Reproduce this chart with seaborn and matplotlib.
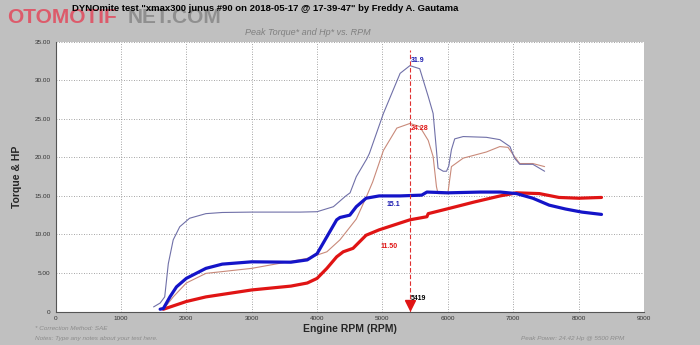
import matplotlib
matplotlib.use("Agg")
import matplotlib.pyplot as plt
import seaborn as sns
import pandas as pd
from matplotlib.ticker import MultipleLocator, FuncFormatter

# ---- data ----
hp_rpm = [1600, 1650, 1750, 1850, 2000, 2300, 2550, 3000, 3600, 3850, 4000, 4150, 4300, 4350, 4500,
          4600, 4750, 4950, 5270, 5600, 5680, 6000, 6500, 6800, 7050, 7300, 7550, 7800, 8050, 8350]
hp_val = [0.3, 0.4, 1.9, 3.2, 4.3, 5.6, 6.15, 6.45, 6.4, 6.7, 7.5, 9.7, 11.9, 12.2, 12.5,
          13.6, 14.7, 15.0, 15.0, 15.1, 15.5, 15.4, 15.5, 15.5, 15.3, 14.7, 13.8, 13.3, 12.9, 12.6]

tq_rpm = [1650, 2000, 2300, 3000, 3600, 3850, 4000, 4150, 4300, 4400, 4550, 4750, 4950, 5420,
          5680, 5700, 6030, 6400, 6800, 7050, 7400, 7700, 8000, 8350]
tq_val = [0.3, 1.3, 1.9, 2.8, 3.3, 3.7, 4.3, 5.6, 7.1, 7.75, 8.2, 9.9, 10.6, 11.9,
          12.3, 12.7, 13.4, 14.2, 15.0, 15.4, 15.3, 14.8, 14.7, 14.8]

thin_blue_rpm = [1500, 1600, 1670, 1725, 1800, 1900, 2050, 2300, 2550, 3000, 3740, 4000, 4250, 4440,
                 4505, 4600, 4760, 4800, 5015, 5270, 5420, 5570, 5700, 5775, 5826, 5850, 5930, 5980,
                 6015, 6055, 6105, 6235, 6590, 6795, 6950, 7020, 7100, 7300, 7400, 7480]
thin_blue_val = [0.6, 1.1, 1.9, 6.2, 9.3, 11.0, 12.1, 12.7, 12.85, 12.9, 12.9, 12.95, 13.6, 15.0,
                 15.4, 17.5, 19.8, 20.5, 25.7, 30.9, 31.9, 31.5, 27.9, 25.7, 20.9, 18.6, 18.2, 18.2,
                 18.9, 21.0, 22.4, 22.7, 22.6, 22.3, 21.4, 19.9, 19.1, 19.1, 18.6, 18.2]

thin_brown_rpm = [1650, 1800, 2000, 2300, 3000, 3850, 4150, 4350, 4600, 4760, 4850, 5015, 5220, 5420,
                  5570, 5700, 5775, 5826, 5850, 6000, 6055, 6235, 6590, 6795, 6920, 7020, 7100, 7300, 7480]
thin_brown_val = [0.3, 1.9, 3.7, 4.95, 5.6, 6.9, 7.75, 9.3, 12.0, 15.0, 16.8, 20.9, 23.8, 24.4,
                  24.0, 22.2, 20.1, 16.2, 15.3, 15.3, 18.8, 19.9, 20.7, 21.4, 21.3, 20.1, 19.2, 19.2, 18.8]

peak_rpm = 5419
peak_labels = [("31.9", 31.9), ("24.28", 24.28), ("15.1", 15.1), ("11.50", 11.50)]

xticks = list(range(0, 9001, 1000))
yticks = [0, 5, 10, 15, 20, 25, 30, 35]

# ---- style ----
sns.set_style("white")
plt.rcParams['font.family'] = ['Liberation Sans', 'DejaVu Sans']

bg = "#c0c0c0"
fig = plt.figure(figsize=(7, 3.45), dpi=100, facecolor=bg)
ax = fig.add_axes([0.0793, 0.097, 0.8407, 0.782])
ax.set_facecolor("white")

def draw(x, y, color, lw):
    df = pd.DataFrame({"rpm": x, "v": y})
    sns.lineplot(data=df, x="rpm", y="v", color=color, lw=lw, sort=False, ax=ax,
                 estimator=None, errorbar=None)

draw(thin_brown_rpm, thin_brown_val, "#c98a7a", 0.8)
draw(thin_blue_rpm, thin_blue_val, "#7070a8", 0.8)
draw(tq_rpm, tq_val, "#e01414", 2.3)
draw(hp_rpm, hp_val, "#1414c8", 2.3)

ax.set_xlim(0, 9000)
ax.set_ylim(0, 35)
ax.set_xticks(xticks)
ax.set_yticks(yticks)
ax.yaxis.set_major_formatter(FuncFormatter(lambda v, p: "0" if v == 0 else f"{v:.2f}"))
ax.xaxis.set_minor_locator(MultipleLocator(100))
ax.yaxis.set_minor_locator(MultipleLocator(0.5))
ax.tick_params(axis="both", which="major", labelsize=4.6, length=4, direction="inout",
               color="#555555", labelcolor="#333333", pad=1.5)
ax.tick_params(axis="both", which="minor", length=2, direction="inout", color="#555555")
ax.grid(True, which="major", color="#888888", linestyle=(0, (1, 2)), lw=0.6)
for s in ["top", "right"]:
    ax.spines[s].set_visible(False)
for s in ["left", "bottom"]:
    ax.spines[s].set_color("#555555")
    ax.spines[s].set_linewidth(0.8)
ax.set_xlabel("Engine RPM (RPM)", fontsize=7.5, fontweight="bold", labelpad=2)
ax.set_ylabel("Torque & HP", fontsize=7.5, fontweight="bold", labelpad=9)

# peak marker
ax.axvline(peak_rpm, color="#e03030", lw=0.8, ls=(0, (4, 2)), ymax=0.97)
ax.plot([peak_rpm], [0.9], marker="v", color="#e01414", markersize=7, clip_on=False)
ax.text(peak_rpm + 15, 1.5, "5419", fontsize=5, fontweight="bold", color="black")
colors_lbl = ["#1a1ab0", "#e01414", "#1a1ab0", "#e01414"]
offs = [(20, 0.7), (20, -0.5), (-350, -1.2), (-450, -3.0)]
for (t, v), c, (dx, dy) in zip(peak_labels, colors_lbl, offs):
    ax.text(peak_rpm + dx, v + dy, t, fontsize=5, fontweight="bold", color=c, va="center")

# watermark (drawn first so the title sits over it)
fig.text(0.01, 0.948, "OTOMOTIF", fontsize=15, fontweight="bold", color="#e05062",
         ha="left", va="center", alpha=0.9)
fig.text(0.183, 0.948, "NET.COM", fontsize=15, fontweight="bold", color="#8a8a8a",
         ha="left", va="center", alpha=0.9)

# titles
fig.text(0.103, 0.976, 'DYNOmite test "xmax300 junus #90 on 2018-05-17 @ 17-39-47" by Freddy A. Gautama',
         fontsize=6.8, fontweight="bold", ha="left", va="center", color="black")
fig.text(0.44, 0.905, "Peak Torque* and Hp* vs. RPM", fontsize=6.5, style="italic",
         ha="center", va="center", color="#808080")

# footnotes
fig.text(0.05, 0.047, "* Correction Method: SAE", fontsize=4.6, style="italic", color="#8c8c8c", va="center")
fig.text(0.05, 0.02, "Notes: Type any notes about your test here.", fontsize=4.6, style="italic",
         color="#8c8c8c", va="center")
fig.text(0.818, 0.02, "Peak Power: 24.42 Hp @ 5500 RPM", fontsize=4.6, style="italic",
         color="#8c8c8c", va="center", ha="center")

fig.savefig("out.png", dpi=100, facecolor=bg)
